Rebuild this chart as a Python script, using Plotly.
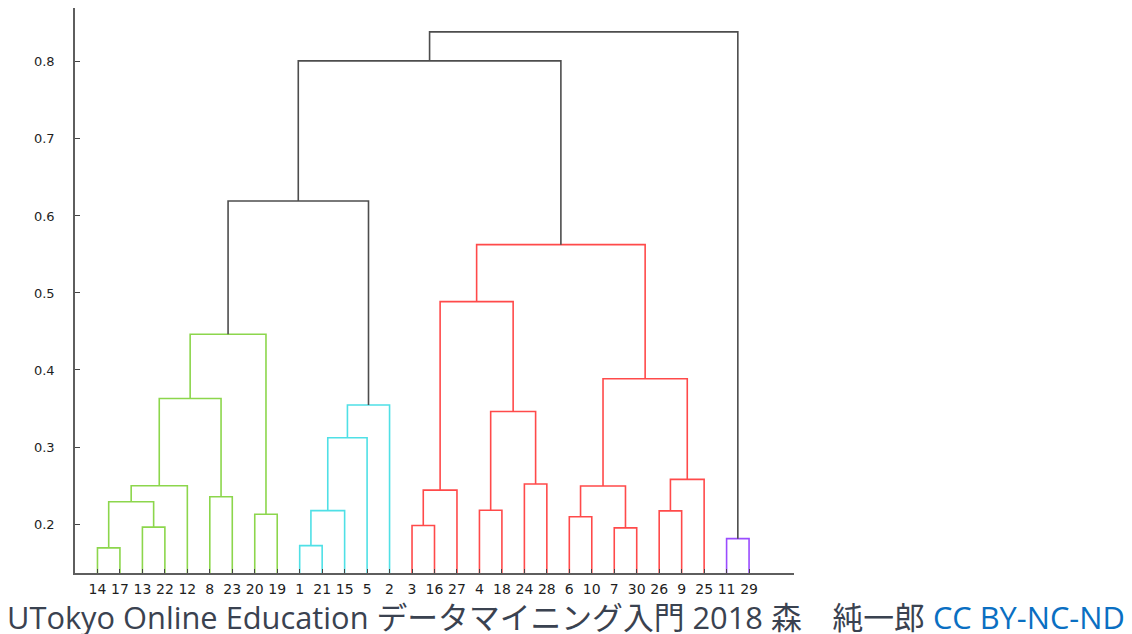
import plotly.graph_objects as go

# Leaf labels in the order they appear along the x axis
leaf_order = [14, 17, 13, 22, 12, 8, 23, 20, 19, 1, 21, 15, 5, 2,
              3, 16, 27, 4, 18, 24, 28, 6, 10, 7, 30, 26, 9, 25, 11, 29]

# Linkage: each merge joins two nodes (leaf labels 1..30, clusters numbered from 31)
merge_left = [14, 1, 11, 7, 13, 3, 6, 20, 26, 32, 4, 31, 8, 36, 42,
              37, 24, 39, 40, 41, 49, 45, 46, 52, 44, 55, 54, 57, 58]
merge_right = [17, 21, 29, 30, 22, 16, 10, 19, 9, 15, 18, 35, 23, 27, 12,
               34, 28, 25, 5, 47, 2, 43, 48, 38, 50, 53, 51, 56, 33]
merge_height = [0.169, 0.172, 0.181, 0.195, 0.196, 0.198, 0.2095, 0.2126, 0.217,
                0.2174, 0.2178, 0.229, 0.2355, 0.244, 0.2497, 0.2494, 0.252,
                0.258, 0.312, 0.346, 0.3545, 0.363, 0.3887, 0.4464, 0.4887,
                0.5627, 0.6195, 0.8013, 0.839]
merge_group = ["g", "c", "p", "r", "g", "r", "r", "g", "r", "c", "r", "g", "g",
               "r", "g", "r", "r", "r", "c", "r", "c", "g", "r", "g", "r", "r",
               "k", "k", "k"]

y_ticks = [0.2, 0.3, 0.4, 0.5, 0.6, 0.7, 0.8]

group_colors = {
    "g": "#8cd64c",
    "c": "#4fe0e6",
    "r": "#ff4a4a",
    "p": "#9a4cff",
    "k": "#4d4d4d",
}
group_order = ["g", "c", "r", "p", "k"]

n_leaves = len(leaf_order)
xpos = {lab: i + 1 for i, lab in enumerate(leaf_order)}
ypos = {lab: 0.0 for lab in leaf_order}

segments = {g: ([], []) for g in group_order}
for k, (a, b, h, g) in enumerate(zip(merge_left, merge_right, merge_height, merge_group)):
    node = n_leaves + 1 + k
    xa, xb = xpos[a], xpos[b]
    xs, ys = segments[g]
    xs += [xa, xa, xb, xb, None]
    ys += [ypos[a], h, h, ypos[b], None]
    xpos[node] = (xa + xb) / 2
    ypos[node] = h

fig = go.Figure()
for g in group_order:
    xs, ys = segments[g]
    if not xs:
        continue
    fig.add_trace(go.Scatter(
        x=xs, y=ys, mode="lines",
        line=dict(color=group_colors[g], width=1.6),
        hoverinfo="skip", showlegend=False,
    ))

x_tick_font = dict(family="DejaVu Sans, sans-serif", size=14, color="#1e1e1e")
y_tick_font = dict(family="DejaVu Sans, sans-serif", size=13, color="#1e1e1e")

fig.update_xaxes(
    range=[0, 32],
    tickmode="array",
    tickvals=list(range(1, n_leaves + 1)),
    ticktext=[str(v) for v in leaf_order],
    ticks="inside", ticklen=4, tickcolor="#444444", tickwidth=1,
    showline=True, linecolor="#5e5e5e", linewidth=1.6,
    showgrid=False, zeroline=False,
    tickfont=x_tick_font,
    ticklabelstandoff=2,
)
fig.update_yaxes(
    range=[0.1364, 0.870],
    tickmode="array",
    tickvals=y_ticks,
    ticktext=[f"{v:.1f}" for v in y_ticks],
    ticks="inside", ticklen=5, tickcolor="#444444", tickwidth=1,
    showline=True, linecolor="#5e5e5e", linewidth=1.6,
    showgrid=False, zeroline=False,
    tickfont=y_tick_font,
    ticklabelstandoff=16,
)

fig.add_annotation(
    xref="paper", yref="paper",
    x=-0.097, y=-0.077,
    xanchor="left", yanchor="middle",
    showarrow=False,
    text=("UTokyo Online Education データマイニング入門 2018 森　純一郎 "
          "<span style='color:#0a6fc2'>CC BY-NC-ND</span>"),
    font=dict(family="Open Sans, Noto Sans CJK JP, sans-serif", size=30.8, color="#3a4250"),
)

fig.update_layout(
    width=1132, height=634,
    margin=dict(l=75, r=338, t=8, b=61),
    paper_bgcolor="white", plot_bgcolor="white",
)

fig.write_html("out.html")
